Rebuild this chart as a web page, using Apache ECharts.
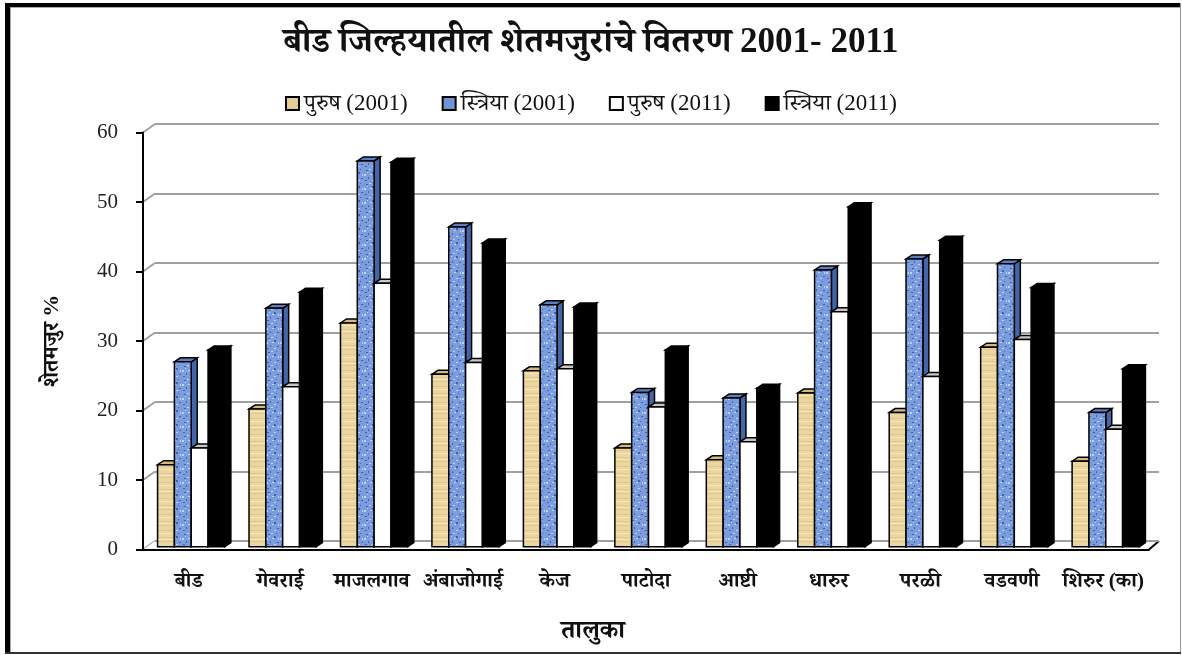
<!DOCTYPE html>
<html>
<head>
<meta charset="utf-8">
<script src="https://cdn.jsdelivr.net/npm/echarts@6/dist/echarts.min.js"></script>
<style>
html,body{margin:0;padding:0;background:#fff;}
#chart{width:1182px;height:655px;}
</style>
</head>
<body>
<div id="chart"></div>
<script>
// ---- data ----
const categories = ['बीड','गेवराई','माजलगाव','अंबाजोगाई','केज','पाटोदा','आष्टी','धारुर','परळी','वडवणी','शिरुर (का)'];
const male2001   = [11.8, 19.8, 32.2, 24.8, 25.3, 14.2, 12.5, 22.1, 19.3, 28.7, 12.3];
const female2001 = [26.6, 34.3, 55.5, 46.0, 34.8, 22.2, 21.4, 39.8, 41.4, 40.7, 19.3];
const male2011   = [14.2, 23.0, 37.9, 26.5, 25.6, 20.1, 15.1, 33.8, 24.5, 29.8, 16.9];
const female2011 = [28.3, 36.6, 55.3, 43.7, 34.5, 28.3, 22.8, 48.9, 44.1, 37.3, 25.6];
const yTicks = [0, 10, 20, 30, 40, 50, 60];
const seriesNames = ['पुरुष (2001)', 'स्त्रिया (2001)', 'पुरुष (2011)', 'स्त्रिया (2011)'];
const titleText = 'बीड जिल्हयातील शेतमजुरांचे वितरण 2001- 2011';
const xName = 'तालुका';
const yName = 'शेतमजुर %';

// ---- textures ----
function makeTan() {
  const c = document.createElement('canvas'); c.width = 16; c.height = 16;
  const g = c.getContext('2d');
  g.fillStyle = '#ecd69f'; g.fillRect(0, 0, 16, 16);
  g.fillStyle = '#e2c88d'; g.fillRect(0, 2, 16, 1); g.fillRect(0, 9, 16, 1); g.fillRect(0, 13, 16, 1);
  g.fillStyle = '#f4e4bb'; g.fillRect(0, 5, 16, 1); g.fillRect(0, 11, 16, 1);
  return c;
}
function makeBlue() {
  const c = document.createElement('canvas'); c.width = 14; c.height = 14;
  const g = c.getContext('2d');
  g.fillStyle = '#7b9ddd'; g.fillRect(0, 0, 14, 14);
  const dark = [[2,2,2,1],[8,4,2,2],[4,9,1,2],[11,10,2,1],[1,12,2,1],[10,1,1,1]];
  const light = [[5,1,2,1],[0,6,2,2],[6,6,2,1],[12,6,1,2],[8,12,2,1],[3,4,1,1]];
  g.fillStyle = '#3f63ad';
  dark.forEach(d => g.fillRect(d[0], d[1], d[2], d[3]));
  g.fillStyle = '#bdd3f7';
  light.forEach(d => g.fillRect(d[0], d[1], d[2], d[3]));
  return c;
}
const tanFill = { image: makeTan(), repeat: 'repeat' };
const blueFill = { image: makeBlue(), repeat: 'repeat' };

const faces = [
  { front: tanFill, top: '#d6b878', side: '#c2a263', legend: '#e6cf95' },
  { front: blueFill, top: '#5a7ec2', side: '#4266a8', legend: '#6f93d6' },
  { front: '#ffffff', top: '#c8c8c8', side: '#bbbbbb', legend: '#ffffff' },
  { front: '#000000', top: '#000000', side: '#000000', legend: '#000000' }
];
const dataSets = [male2001, female2001, male2011, female2011];

const BAR_FRAC = 0.184;
const SHIFT_X = 2.5, SHIFT_Y = -2.8;
const DX = 6, DY = -4;

function barRender(j) {
  return function (params, api) {
    const cat = api.value(0), val = api.value(1);
    const base = api.coord([cat, 0]);
    const top = api.coord([cat, val]);
    const band = api.size([1, 0])[0];
    const bw = band * BAR_FRAC;
    const x0 = base[0] + SHIFT_X - 2 * bw + j * bw;
    const x1 = x0 + bw;
    const yb = base[1] + SHIFT_Y;
    const yt = top[1] + SHIFT_Y;
    const f = faces[j];
    const st = { stroke: '#000', lineWidth: 1.5 };
    return {
      type: 'group',
      children: [
        { type: 'polygon', shape: { points: [[x1, yt], [x1 + DX, yt + DY], [x1 + DX, yb + DY], [x1, yb]] },
          style: Object.assign({ fill: f.side }, st) },
        { type: 'polygon', shape: { points: [[x0, yt], [x1, yt], [x1 + DX, yt + DY], [x0 + DX, yt + DY]] },
          style: Object.assign({ fill: f.top }, st) },
        { type: 'rect', shape: { x: x0, y: yt, width: bw, height: yb - yt },
          style: Object.assign({ fill: f.front }, st) }
      ]
    };
  };
}

function frameRender(params, api) {
  const cs = params.coordSys;
  const ch = [];
  yTicks.forEach(t => {
    const y = api.coord([0, t])[1];
    ch.push({ type: 'line', shape: { x1: cs.x, y1: y, x2: cs.x + 12, y2: y - 8.5 },
      style: { stroke: '#a0a0a0', lineWidth: 2 } });
  });
  const y0 = api.coord([0, 0])[1];
  ch.push({ type: 'polygon', shape: { points: [[cs.x, y0], [cs.x + cs.width, y0], [cs.x + cs.width + 10, y0 - 8.5], [cs.x + 12, y0 - 8.5]] },
    style: { fill: '#fff', stroke: null } });
  ch.push({ type: 'line', shape: { x1: cs.x + cs.width, y1: y0, x2: cs.x + cs.width + 10, y2: y0 - 8.5 },
    style: { stroke: '#000', lineWidth: 2 } });
  ch.push({ type: 'line', shape: { x1: cs.x + 12, y1: y0 - 8.5, x2: cs.x + cs.width + 10, y2: y0 - 8.5 },
    style: { stroke: '#a0a0a0', lineWidth: 2 } });
  return { type: 'group', children: ch };
}

const devFont = "'Liberation Serif', 'Noto Serif Devanagari', 'Noto Sans Devanagari', 'Lohit Devanagari', serif";

const series = [{
  type: 'custom', name: '_frame', xAxisIndex: 0, yAxisIndex: 0, z: 1, silent: true,
  renderItem: frameRender, data: [[0, 0]]
}];
dataSets.forEach((arr, j) => {
  series.push({
    type: 'custom', name: seriesNames[j], xAxisIndex: 0, yAxisIndex: 0, z: 3,
    renderItem: barRender(j),
    itemStyle: { color: faces[j].legend, borderColor: '#000', borderWidth: 1 },
    encode: { x: 0, y: 1 },
    data: arr.map((v, i) => [i, v])
  });
});

const chart = echarts.init(document.getElementById('chart'), null, { renderer: 'canvas' });
chart.setOption({
  animation: false,
  backgroundColor: '#fff',
  title: {
    text: titleText, left: 'center', top: 20,
    textStyle: { fontFamily: devFont, fontSize: 35, fontWeight: 'bold', color: '#111' }
  },
  legend: {
    data: seriesNames, top: 87, left: 'center', itemWidth: 13, itemHeight: 13, itemGap: 34,
    icon: 'rect',
    textStyle: { fontFamily: devFont, fontSize: 23, color: '#111' }
  },
  grid: [
    { left: 143, right: 33, top: 132.5, bottom: 105.5, containLabel: false },
    { left: 155, right: 23, top: 124, bottom: 114, containLabel: false }
  ],
  xAxis: [
    { type: 'category', gridIndex: 0, data: categories,
      axisLine: { show: true, lineStyle: { color: '#000', width: 2 } },
      axisTick: { show: false },
      axisLabel: { margin: 22, fontFamily: devFont, fontSize: 21, fontWeight: 'bold', color: '#111', interval: 0 },
      name: xName, nameLocation: 'middle', nameGap: 70,
      nameTextStyle: { fontFamily: devFont, fontSize: 25, fontWeight: 'bold', color: '#111', padding: [0, 106, 0, 0] },
      z: 5 },
    { type: 'value', gridIndex: 1, min: 0, max: 1, show: false }
  ],
  yAxis: [
    { type: 'value', gridIndex: 0, min: 0, max: 60, interval: 10,
      axisLine: { show: true, lineStyle: { color: '#000', width: 2 } },
      axisTick: { show: true, length: 7, lineStyle: { color: '#000', width: 2 } },
      splitLine: { show: false },
      axisLabel: { margin: 25, fontFamily: "'Liberation Serif', serif", fontSize: 21, color: '#222' },
      name: yName, nameLocation: 'middle', nameGap: 80, nameRotate: 90,
      nameTextStyle: { fontFamily: devFont, fontSize: 22, fontWeight: 'bold', color: '#111' },
      z: 5 },
    { type: 'value', gridIndex: 1, min: 0, max: 60, interval: 10,
      axisLine: { show: false }, axisTick: { show: false }, axisLabel: { show: false },
      splitLine: { show: true, lineStyle: { color: '#a0a0a0', width: 2 } } }
  ],
  graphic: [
    { type: 'rect', shape: { x: 5, y: 3, width: 1176, height: 4 }, style: { fill: '#000' }, z: 100 },
    { type: 'rect', shape: { x: 5, y: 3, width: 5, height: 651 }, style: { fill: '#000' }, z: 100 },
    { type: 'rect', shape: { x: 10, y: 7, width: 1, height: 646 }, style: { fill: '#aaa' }, z: 100 },
    { type: 'rect', shape: { x: 10, y: 7, width: 1170, height: 1 }, style: { fill: '#aaa' }, z: 100 },
    { type: 'rect', shape: { x: 1180, y: 3, width: 1, height: 651 }, style: { fill: '#999' }, z: 100 },
    { type: 'rect', shape: { x: 5, y: 652, width: 1176, height: 2 }, style: { fill: '#333' }, z: 100 }
  ],
  series: series
});
</script>
</body>
</html>
